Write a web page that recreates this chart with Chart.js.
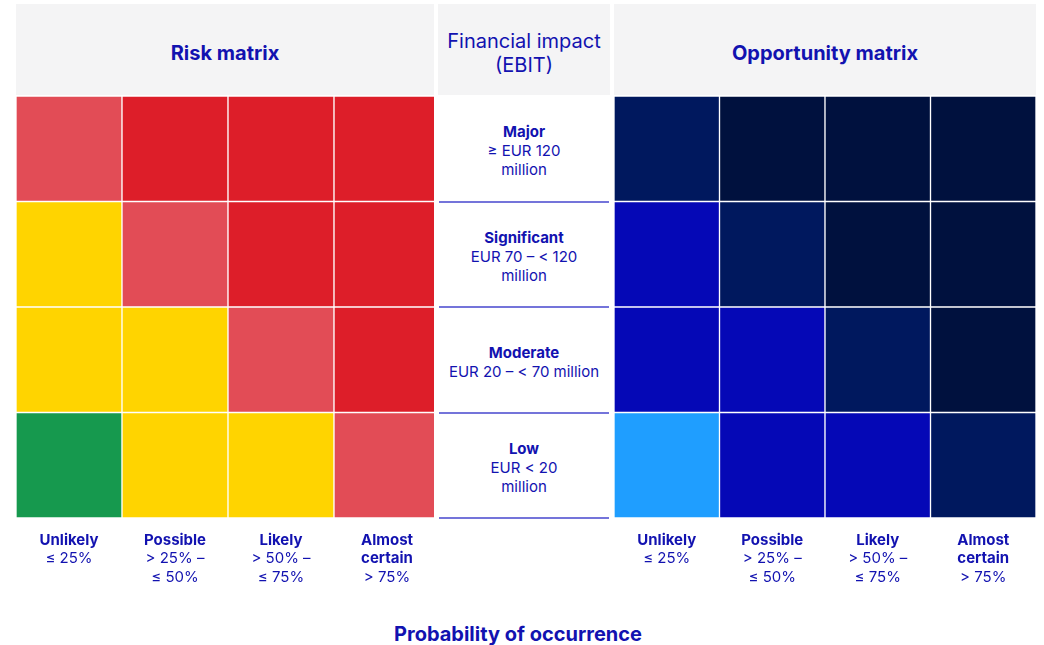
<!DOCTYPE html>
<html>
<head>
<meta charset="utf-8">
<script src="https://cdn.jsdelivr.net/npm/chart.js@4"></script>
<style>
    body {
        margin: 0;
        width: 1044px;
        height: 645px;
        background: #fff;
        font-family: Inter, "Noto Sans", sans-serif;
        color: #1212b0;
        position: relative;
        overflow: hidden;
    }
    .panel {
        position: absolute;
        top: 4px;
        height: 91px;
        background: #f4f4f5;
        display: flex;
        align-items: center;
        justify-content: center;
        text-align: center;
        box-sizing: border-box;
        padding-top: 6px;
        font-size: 20px;
        line-height: 24px;
    }
    .panel.bold { font-weight: 700; }
    .chart-clip {
        position: absolute;
        top: 96px;
        height: 502px;
        overflow: hidden;
    }
    .chart-box {
        position: relative;
        height: 502px;
    }
    #impact-col {
        position: absolute;
        left: 438px;
        top: 97px;
        width: 172px;
    }
    .impact-cell {
        height: 105.5px;
        box-sizing: border-box;
        padding-top: 3.5px;
        border-bottom: 2px solid #7474da;
        margin-left: 1px;
        margin-right: 1px;
        display: flex;
        flex-direction: column;
        align-items: center;
        justify-content: center;
        text-align: center;
        font-size: 15px;
        line-height: 19px;
    }
    .impact-cell b { font-weight: 700; }
    #x-title {
        position: absolute;
        left: 0;
        width: 1036px;
        top: 622px;
        text-align: center;
        font-size: 20px;
        font-weight: 700;
        line-height: 24px;
    }
</style>
</head>
<body>
<div class="panel bold" style="left:16px; width:418px;">Risk matrix</div>
<div class="panel" style="left:438px; width:172px;">Financial impact<br>(EBIT)</div>
<div class="panel bold" style="left:614px; width:422px;">Opportunity matrix</div>

<div class="chart-clip" style="left:16px; width:418px;">
    <div class="chart-box" style="width:424px;"><canvas id="riskChart"></canvas></div>
</div>
<div id="impact-col"></div>
<div class="chart-clip" style="left:614px; width:422px;">
    <div class="chart-box" style="width:422px;"><canvas id="oppChart"></canvas></div>
</div>

<div id="x-title">Probability of occurrence</div>

<script>
// Probability columns (x) and impact rows (top to bottom)
const probNames = [['Unlikely'], ['Possible'], ['Likely'], ['Almost', 'certain']];
const probRanges = [['≤ 25%'], ['> 25% –', '≤ 50%'], ['> 50% –', '≤ 75%'], ['> 75%']];
const impactNames = ['Major', 'Significant', 'Moderate', 'Low'];
const impactRanges = [['≥ EUR 120', 'million'], ['EUR 70 – < 120', 'million'], ['EUR 20 – < 70 million'], ['EUR < 20', 'million']];

// Rating per cell, rows follow impactNames, columns follow probNames
const riskLevels = [
    [2, 3, 3, 3],
    [1, 2, 3, 3],
    [1, 1, 2, 3],
    [0, 1, 1, 2]
];
const oppLevels = [
    [2, 3, 3, 3],
    [1, 2, 3, 3],
    [1, 1, 2, 3],
    [0, 1, 1, 2]
];

const riskColors = ['#16994e', '#ffd400', '#e24c56', '#dd1e29'];
const oppColors = ['#1f9eff', '#0508b6', '#00185e', '#00113e'];

const TEXT_COLOR = '#1212b0';
const FONT = 'Inter, "Noto Sans", sans-serif';

// Middle column with the impact bands
const impactCol = document.getElementById('impact-col');
impactNames.forEach((name, i) => {
    const cell = document.createElement('div');
    cell.className = 'impact-cell';
    cell.innerHTML = `<b>${name}</b>` + impactRanges[i].map(t => `<span>${t}</span>`).join('');
    impactCol.appendChild(cell);
});

// Column captions under each matrix, placed on the x scale
const probLabelsPlugin = {
    id: 'probLabels',
    afterDraw(chart) {
        const ctx = chart.ctx;
        const xScale = chart.scales.x;
        const top = chart.chartArea.bottom + 22;
        ctx.save();
        ctx.fillStyle = TEXT_COLOR;
        ctx.textAlign = 'center';
        ctx.textBaseline = 'middle';
        probNames.forEach((nameLines, i) => {
            const x = xScale.getPixelForValue(i);
            let y = top;
            ctx.font = `700 15px ${FONT}`;
            nameLines.forEach(line => {
                ctx.fillText(line, x, y);
                y += 18.5;
            });
            ctx.font = `400 15px ${FONT}`;
            probRanges[i].forEach(line => {
                ctx.fillText(line, x, y);
                y += 18.5;
            });
        });
        ctx.restore();
    }
};

function buildMatrix(canvasId, levels, palette) {
    // Stack rows from the bottom (Low) up to the top (Major)
    const datasets = impactNames.map((name, r) => ({
        label: name,
        data: probNames.map(() => 1),
        backgroundColor: levels[r].map(l => palette[l]),
        borderColor: '#ffffff',
        borderWidth: 1,
        borderSkipped: false,
        barPercentage: 1,
        categoryPercentage: 1
    })).reverse();

    return new Chart(document.getElementById(canvasId).getContext('2d'), {
        type: 'bar',
        data: {
            labels: probNames.map(n => n.join(' ')),
            datasets
        },
        options: {
            responsive: true,
            maintainAspectRatio: false,
            animation: false,
            layout: { padding: { bottom: 80 } },
            scales: {
                x: { stacked: true, display: false },
                y: { stacked: true, display: false, min: 0, max: impactNames.length }
            },
            plugins: {
                legend: { display: false },
                tooltip: { enabled: false }
            }
        },
        plugins: [probLabelsPlugin]
    });
}

buildMatrix('riskChart', riskLevels, riskColors);
buildMatrix('oppChart', oppLevels, oppColors);
</script>
</body>
</html>
